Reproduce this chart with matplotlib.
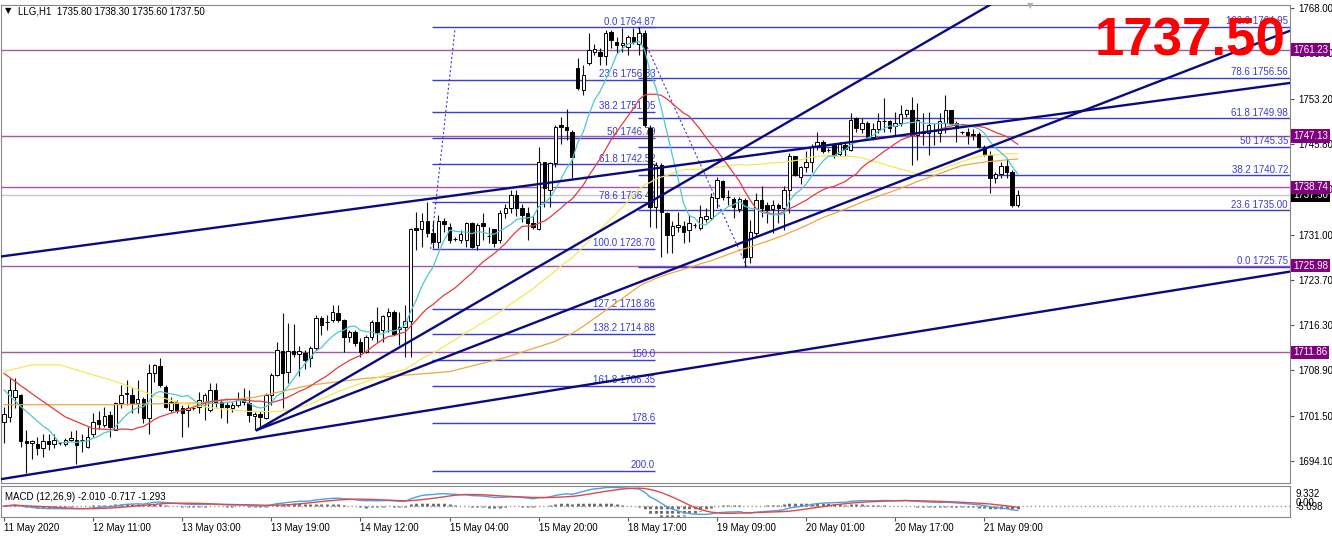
import numpy as np
import pandas as pd
import matplotlib
matplotlib.use("Agg")
import matplotlib.pyplot as plt
import matplotlib.transforms as mtrans

plt.rcParams['font.family'] = ['Liberation Sans', 'DejaVu Sans']

# LLG,H1 candles, 11 May 2020 .. 21 May 2020
opens = [1700.5, 1701.3, 1704.6, 1704.9, 1697.3, 1697.0, 1696.9, 1696.3, 1697.4, 1696.9,
         1697.0, 1696.9, 1697.5, 1697.6, 1697.5, 1696.4, 1698.6, 1700.8, 1700.0, 1701.6,
         1699.2, 1703.5, 1705.0, 1704.9, 1703.5, 1704.3, 1701.2, 1708.4, 1709.6, 1706.2,
         1702.4, 1703.8, 1702.7, 1702.4, 1702.7, 1703.0, 1703.8, 1702.4, 1705.7, 1703.8,
         1703.2, 1702.7, 1703.2, 1704.3, 1703.5, 1701.5, 1701.8, 1701.2, 1704.9, 1708.1,
         1712.1, 1708.7, 1712.0, 1711.6, 1711.8, 1710.9, 1712.5, 1717.4, 1716.8, 1717.1,
         1718.3, 1717.1, 1714.4, 1715.2, 1713.6, 1711.9, 1714.4, 1716.8, 1715.5, 1717.8,
         1718.5, 1715.6, 1716.0, 1716.9, 1732.1, 1731.9, 1733.3, 1731.3, 1729.9, 1733.2,
         1732.3, 1730.3, 1730.2, 1730.2, 1732.9, 1729.3, 1732.9, 1730.8, 1731.9, 1730.2,
         1734.5, 1735.3, 1737.5, 1735.3, 1734.5, 1732.9, 1732.0, 1742.9, 1738.3, 1742.7,
         1748.9, 1748.6, 1747.8, 1758.2, 1754.6, 1759.0, 1760.9, 1760.9, 1760.1, 1764.1,
         1762.4, 1762.0, 1761.7, 1763.2, 1762.2, 1763.9, 1748.5, 1735.6, 1742.4, 1734.5,
         1731.0, 1732.3, 1732.5, 1731.8, 1732.6, 1732.2, 1733.6, 1733.7, 1737.0, 1739.8,
         1737.1, 1736.9, 1735.2, 1736.7, 1727.4, 1731.3, 1736.7, 1735.9, 1735.2, 1735.9,
         1735.3, 1738.3, 1743.8, 1740.5, 1742.1, 1742.9, 1745.4, 1746.2, 1744.8, 1745.7,
         1744.2, 1745.7, 1744.9, 1750.0, 1748.2, 1749.3, 1747.0, 1748.2, 1749.5, 1749.5,
         1748.7, 1749.2, 1750.7, 1751.4, 1747.3, 1747.8, 1747.6, 1748.0, 1747.6, 1749.3,
         1751.3, 1749.3, 1747.7, 1747.8, 1747.3, 1747.5, 1745.4, 1744.0, 1740.2, 1741.0,
         1742.2, 1741.3, 1735.8]
highs = [1703.0, 1707.6, 1707.6, 1705.0, 1699.2, 1697.6, 1698.1, 1698.6, 1698.5, 1698.6,
         1697.2, 1697.8, 1699.0, 1699.2, 1698.6, 1699.7, 1701.9, 1702.2, 1703.0, 1702.2,
         1703.8, 1706.5, 1707.3, 1706.0, 1707.3, 1704.6, 1710.0, 1710.0, 1710.9, 1706.5,
         1704.6, 1704.0, 1703.2, 1703.2, 1702.9, 1705.4, 1705.2, 1706.8, 1706.8, 1704.3,
         1703.8, 1703.8, 1705.4, 1706.0, 1705.7, 1702.1, 1702.2, 1705.2, 1708.4, 1713.6,
         1718.2, 1716.6, 1716.5, 1712.8, 1712.2, 1712.8, 1717.9, 1717.7, 1717.9, 1719.6,
         1719.6, 1717.2, 1715.5, 1715.5, 1714.1, 1714.7, 1717.1, 1719.3, 1717.9, 1719.0,
         1718.7, 1718.5, 1719.6, 1732.2, 1734.8, 1734.5, 1736.4, 1733.2, 1734.2, 1733.7,
         1732.9, 1730.6, 1731.8, 1733.1, 1733.1, 1732.9, 1734.5, 1732.3, 1732.0, 1735.0,
         1736.1, 1738.3, 1738.3, 1736.1, 1735.6, 1734.0, 1745.4, 1742.9, 1742.9, 1748.9,
         1750.3, 1751.6, 1748.1, 1759.8, 1758.7, 1763.9, 1762.2, 1761.4, 1764.4, 1764.4,
         1763.3, 1764.7, 1763.6, 1764.7, 1764.87, 1764.4, 1748.9, 1742.9, 1742.7, 1734.8,
         1733.2, 1734.8, 1733.2, 1734.2, 1733.0, 1735.9, 1735.4, 1737.8, 1740.4, 1739.9,
         1738.3, 1737.2, 1737.2, 1737.0, 1733.4, 1737.8, 1738.9, 1736.4, 1736.7, 1736.2,
         1738.9, 1744.3, 1743.9, 1742.2, 1744.6, 1745.9, 1747.8, 1746.5, 1745.1, 1745.9,
         1746.2, 1746.0, 1750.8, 1750.3, 1750.0, 1749.5, 1749.2, 1750.8, 1753.3, 1749.7,
         1751.1, 1752.2, 1751.6, 1753.5, 1752.5, 1750.8, 1751.1, 1749.2, 1750.8, 1753.8,
         1751.4, 1749.5, 1747.9, 1748.4, 1748.2, 1747.7, 1745.7, 1744.6, 1741.3, 1742.9,
         1743.5, 1741.6, 1738.3]
lows = [1697.0, 1700.5, 1702.7, 1696.4, 1692.1, 1694.5, 1695.1, 1694.8, 1695.9, 1696.2,
        1696.8, 1696.6, 1697.3, 1693.7, 1695.6, 1696.2, 1698.1, 1699.4, 1699.7, 1698.1,
        1699.1, 1702.7, 1703.2, 1701.9, 1701.9, 1700.3, 1698.6, 1707.0, 1706.2, 1702.7,
        1702.1, 1701.9, 1698.1, 1699.7, 1702.5, 1701.9, 1700.8, 1702.1, 1703.0, 1701.1,
        1700.3, 1702.1, 1703.0, 1703.2, 1700.5, 1699.2, 1699.7, 1700.9, 1703.2, 1707.9,
        1702.7, 1706.8, 1711.1, 1707.9, 1709.2, 1709.5, 1712.2, 1714.7, 1715.5, 1716.8,
        1716.8, 1711.9, 1713.6, 1712.8, 1711.1, 1711.7, 1713.9, 1713.6, 1713.6, 1715.2,
        1714.7, 1713.0, 1711.1, 1711.1, 1728.5, 1729.1, 1730.7, 1728.8, 1728.8, 1731.5,
        1729.6, 1730.0, 1729.6, 1729.1, 1728.8, 1728.5, 1730.2, 1729.6, 1729.0, 1729.6,
        1733.7, 1734.5, 1734.0, 1733.1, 1730.2, 1732.0, 1731.8, 1735.6, 1735.6, 1742.1,
        1745.9, 1746.5, 1740.2, 1754.6, 1753.8, 1758.7, 1760.3, 1758.7, 1758.7, 1761.4,
        1760.6, 1760.9, 1760.3, 1762.2, 1760.3, 1748.6, 1732.3, 1732.1, 1727.4, 1728.0,
        1728.0, 1731.5, 1729.6, 1729.9, 1732.2, 1731.8, 1733.1, 1733.4, 1735.3, 1736.7,
        1735.9, 1733.7, 1734.8, 1725.75, 1726.4, 1730.7, 1733.9, 1732.9, 1731.3, 1732.9,
        1731.8, 1734.5, 1740.6, 1739.3, 1741.3, 1741.3, 1744.8, 1744.3, 1744.5, 1743.5,
        1743.8, 1743.8, 1744.6, 1747.8, 1747.6, 1746.8, 1746.5, 1747.6, 1747.8, 1747.8,
        1747.3, 1748.7, 1750.3, 1742.4, 1743.2, 1745.7, 1744.0, 1745.7, 1746.2, 1747.6,
        1749.2, 1746.2, 1747.5, 1745.9, 1746.5, 1745.1, 1743.8, 1737.8, 1739.4, 1740.2,
        1740.2, 1735.6, 1735.6]
closes = [1701.8, 1705.7, 1705.7, 1697.3, 1697.0, 1697.4, 1696.3, 1697.4, 1696.9, 1697.5,
          1697.0, 1697.6, 1697.8, 1696.7, 1697.6, 1698.0, 1700.5, 1700.1, 1701.5, 1699.6,
          1703.5, 1704.9, 1705.2, 1703.5, 1704.3, 1701.1, 1708.4, 1709.8, 1706.5, 1703.0,
          1703.8, 1702.4, 1701.9, 1702.7, 1702.7, 1704.1, 1704.9, 1705.7, 1703.5, 1703.0,
          1703.0, 1703.2, 1704.3, 1703.8, 1701.6, 1701.8, 1701.3, 1704.9, 1708.1, 1712.2,
          1708.5, 1712.0, 1711.6, 1712.0, 1710.6, 1712.5, 1717.4, 1716.3, 1716.8, 1718.5,
          1717.1, 1714.4, 1715.2, 1713.3, 1711.9, 1714.4, 1716.8, 1715.2, 1717.7, 1718.5,
          1714.9, 1715.9, 1716.9, 1731.9, 1731.8, 1733.2, 1731.3, 1729.9, 1733.2, 1732.8,
          1730.2, 1730.3, 1731.1, 1732.9, 1729.1, 1732.6, 1732.4, 1730.8, 1729.6, 1734.5,
          1735.3, 1737.5, 1735.3, 1734.2, 1732.9, 1732.3, 1742.9, 1738.6, 1742.7, 1748.6,
          1748.6, 1748.1, 1743.7, 1754.9, 1757.1, 1761.2, 1761.3, 1760.1, 1764.0, 1762.8,
          1762.0, 1762.3, 1763.3, 1762.4, 1763.9, 1748.9, 1735.6, 1742.4, 1734.8, 1731.0,
          1732.4, 1732.6, 1731.5, 1732.9, 1732.6, 1733.9, 1734.1, 1737.2, 1739.9, 1737.1,
          1737.1, 1735.6, 1736.9, 1727.4, 1731.5, 1736.7, 1735.3, 1735.1, 1735.9, 1735.3,
          1738.3, 1743.8, 1740.8, 1742.1, 1742.9, 1745.4, 1746.2, 1744.6, 1744.8, 1744.0,
          1745.9, 1745.0, 1749.8, 1748.4, 1749.3, 1747.0, 1748.2, 1749.5, 1749.5, 1748.5,
          1749.2, 1750.7, 1751.4, 1747.3, 1749.7, 1747.6, 1748.9, 1748.1, 1749.5, 1751.3,
          1749.3, 1748.4, 1747.7, 1747.3, 1747.5, 1745.4, 1744.0, 1740.2, 1741.0, 1742.2,
          1741.2, 1735.9, 1737.5]

time_ticks = [0, 16, 32, 48, 64, 80, 96, 112, 128, 144, 160, 176]
time_labels = ["11 May 2020", "12 May 11:00", "13 May 03:00", "13 May 19:00",
               "14 May 12:00", "15 May 04:00", "15 May 20:00", "18 May 17:00",
               "19 May 09:00", "20 May 01:00", "20 May 17:00", "21 May 09:00"]

price_ticks = [1768.00, 1760.60, 1753.20, 1745.80, 1738.40, 1731.00,
               1723.70, 1716.30, 1708.90, 1701.50, 1694.10]

# horizontal levels (purple) and bid
purple_levels = [1761.23, 1747.13, 1738.74, 1725.98, 1711.86]
bid = 1737.50

# moving average warm-up values (before the window is full)
cyan_head_i, cyan_head_v = [0, 3], [1705.7, 1703.0]
red_head_i, red_head_v = [0, 5, 11, 16], [1708.4, 1705.1, 1701.3, 1699.4]
yellow_head_i = [0, 5, 10, 14, 20, 26, 32, 38, 44]
yellow_head_v = [1708.7, 1709.8, 1709.8, 1708.7, 1707.1, 1705.1, 1703.5, 1702.7, 1702.2]
orange_head_i = [0, 20, 35, 45, 55, 65, 80, 90]
orange_head_v = [1703.3, 1703.3, 1703.6, 1704.5, 1706.5, 1707.6, 1708.7, 1711.0]

# fibonacci set A (left) and set B (right)
fibA_prices = [1764.87, 1756.33, 1751.05, 1746.79, 1742.52, 1736.44, 1728.70,
               1718.86, 1714.88, 1710.62, 1706.35, 1700.27, 1692.53]
fibA_labels = ["0.0 1764.87", "23.6 1756.33", "38.2 1751.05", "50 1746.79",
               "61.8 1742.52", "78.6 1736.44", "100.0 1728.70", "127.2 1718.86",
               "138.2 1714.88", "150.0", "161.8 1706.35", "178.6", "200.0"]
fibA_span = (76.8, 116.9)
fibA_trend = ([76.6, 81.0], [1728.70, 1764.87])

fibB_prices = [1725.75, 1735.00, 1740.72, 1745.35, 1749.98, 1756.56, 1764.95]
fibB_labels = ["0.0 1725.75", "23.6 1735.00", "38.2 1740.72", "50 1745.35",
               "61.8 1749.98", "78.6 1756.56", "100.0 1764.95"]
fibB_span = (113.8, 230.9)
fibB_trend = ([113.8, 133.4], [1764.95, 1725.75])

# trend lines (two points each)
trend_lines = [
    ([-0.72, 230.9], [1727.45, 1755.78]),
    ([45.4, 177.0], [1699.17, 1768.5]),
    ([45.4, 230.9], [1699.17, 1764.3]),
    ([-0.72, 230.9], [1691.13, 1725.01]),
]

W, H = 1332, 537


def rect(x0, y0, x1, y1):
    return [x0 / W, 1 - y1 / H, (x1 - x0) / W, (y1 - y0) / H]


def px(x, y):
    return x / W, 1 - y / H


def ma_line(period, head_i, head_v):
    sma = pd.Series(closes).rolling(period).mean()
    xs = list(head_i) + list(range(period - 1, len(closes)))
    ys = list(head_v) + list(sma.iloc[period - 1:])
    return xs, ys


fig = plt.figure(figsize=(13.32, 5.37), dpi=100)
ax = fig.add_axes(rect(1, 5, 1290, 483))
ax2 = fig.add_axes(rect(1, 486, 1290, 517), sharex=ax)

idx = np.arange(len(closes))
o = np.array(opens)
c = np.array(closes)
up = c >= o
body_lo = np.minimum(o, c)
body_h = np.maximum(np.abs(c - o), 0.06)

# background objects
ax.axhline(bid, color='#c8c8c8', lw=1, zorder=1)
for lv in purple_levels:
    ax.axhline(lv, color='#a655a6', lw=1, zorder=2)

fib_col = '#3c3cd0'
ax.hlines(fibA_prices, fibA_span[0], fibA_span[1], color=fib_col, lw=1, zorder=2)
ax.hlines(fibB_prices, fibB_span[0], fibB_span[1], color=fib_col, lw=1, zorder=2)
for p, t in zip(fibA_prices, fibA_labels):
    ax.annotate(t, xy=(fibA_span[1], p), xytext=(0, 0.5), textcoords='offset points',
                ha='right', va='bottom', fontsize=7, color=fib_col, zorder=2)
for p, t in zip(fibB_prices, fibB_labels):
    ax.annotate(t, xy=(fibB_span[1] - 0.4, p), xytext=(0, 0.5), textcoords='offset points',
                ha='right', va='bottom', fontsize=7, color=fib_col, zorder=2)
ax.plot(fibA_trend[0], fibA_trend[1], color=fib_col, lw=0.8, ls=(0, (2, 2)), zorder=2)
ax.plot(fibB_trend[0], fibB_trend[1], color=fib_col, lw=0.8, ls=(0, (2, 2)), zorder=2)

# candles
ax.vlines(idx, lows, highs, color='#111111', lw=0.8, zorder=3)
ax.bar(idx[up], body_h[up], bottom=body_lo[up], width=0.62, color='white',
       edgecolor='black', linewidth=0.7, zorder=4)
ax.bar(idx[~up], body_h[~up], bottom=body_lo[~up], width=0.62, color='black',
       edgecolor='black', linewidth=0.7, zorder=4)

# moving averages
for (period, hi, hv), col in [((100, orange_head_i, orange_head_v), '#f2a640'),
                              ((50, yellow_head_i, yellow_head_v), '#f4e85a'),
                              ((21, red_head_i, red_head_v), '#e43c3c'),
                              ((8, cyan_head_i, cyan_head_v), '#4cc9cf')]:
    xs, ys = ma_line(period, hi, hv)
    ax.plot(xs, ys, color=col, lw=0.9, zorder=5)

for xs, ys in trend_lines:
    ax.plot(xs, ys, color='#0b0b80', lw=1.7, zorder=6)

ax.set_xlim(-0.54, 230.88)
ax.set_ylim(1690.53, 1768.49)
ax.yaxis.tick_right()
ax.set_yticks(price_ticks)
ax.set_yticklabels(["%.2f" % v for v in price_ticks])
ax.tick_params(axis='y', length=3, pad=3, labelsize=7, color='#555555')
ax.tick_params(axis='x', bottom=False, labelbottom=False)
for s in ax.spines.values():
    s.set_color('#888888')

# price boxes on the right scale
bl = mtrans.blended_transform_factory(ax.transAxes, ax.transData)
ax.text(1.0 + 3 / 1289, bid, "%.2f" % bid, transform=bl, ha='left', va='center',
        fontsize=7, color='white', zorder=7, clip_on=False,
        bbox=dict(facecolor='black', edgecolor='none', pad=1.2))
for lv in purple_levels:
    ax.text(1.0 + 3 / 1289, lv, "%.2f" % lv, transform=bl, ha='left', va='center',
            fontsize=7, color='white', zorder=8, clip_on=False,
            bbox=dict(facecolor='#800080', edgecolor='none', pad=1.2))

# MACD (12,26,9)
cs = pd.Series(closes)
macd = cs.ewm(span=12, adjust=False).mean() - cs.ewm(span=26, adjust=False).mean()
signal = macd.rolling(9, min_periods=1).mean()
hist = macd - signal
ax2.axhline(0, color='#999999', lw=1, ls=(0, (1, 2)))
ax2.vlines(idx, 0, hist, color='#666666', lw=2.0, linestyles=(0, (1, 0.6)))
ax2.plot(idx, macd, color='#4f9fe6', lw=1)
ax2.plot(idx, signal, color='#e04848', lw=1)
ax2.set_ylim(-5.098, 9.332)
ax2.set_yticks([])
ax2.set_xticks(time_ticks)
ax2.set_xticklabels(time_labels, ha='left')
ax2.tick_params(axis='x', length=3, pad=1.5, labelsize=7, color='#555555')
for s in ax2.spines.values():
    s.set_color('#888888')
bl2 = mtrans.blended_transform_factory(ax2.transAxes, ax2.transData)
for val, txt, dy in [(9.332, "9.332", -5.5), (0.0, "0.00", 2.0), (-5.098, "-5.098", 7.0)]:
    ax2.annotate(txt, xy=(1.0, val), xycoords=bl2, xytext=(4, dy), textcoords='offset points',
                 ha='left', va='center', fontsize=7, annotation_clip=False)

# headers
fig.text(*px(5, 11), "\u25bc", fontsize=6, va='center', ha='left', color='black',
         family=['DejaVu Sans'])
fig.text(*px(18, 15), "LLG,H1  1735.80 1738.30 1735.60 1737.50", fontsize=7,
         va='baseline', ha='left')
fig.text(*px(5, 499.5), "MACD (12,26,9) -2.010 -0.717 -1.293", fontsize=7,
         va='baseline', ha='left')
fig.text(*px(1030, 6), "\u25bc", fontsize=6, va='center', ha='center', color='#b0b0b0',
         family=['DejaVu Sans'])
fig.text(*px(1286, 55), "1737.50", fontsize=38, fontweight='bold', color='#ff0000',
         ha='right', va='baseline')

fig.savefig("out.png", dpi=100, facecolor='white')
